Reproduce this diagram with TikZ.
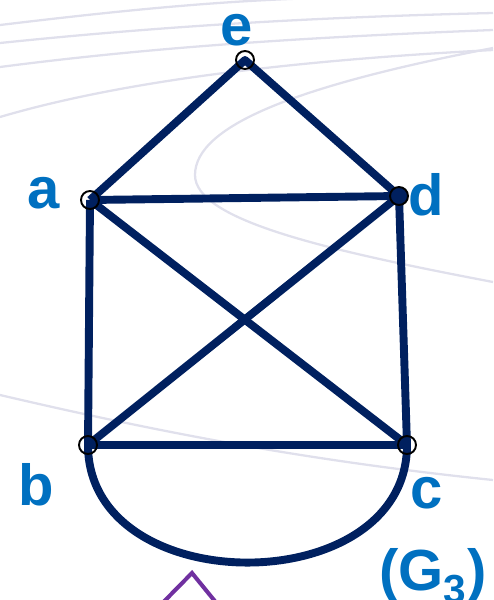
\documentclass[tikz,border=0pt]{standalone}
\usepackage{fontspec}
\setsansfont{Liberation Sans}
\usepackage{xcolor}
\usepackage{tikz}
\definecolor{EdgeInk}{HTML}{00205F}
\definecolor{LabelBlue}{HTML}{0070C0}
\definecolor{SwirlGray}{HTML}{E0E0EC}
\definecolor{MarkPurple}{HTML}{7030A0}
\tikzset{
  graphfig/.style={font=\sffamily\bfseries},
  edge/.style={draw=EdgeInk,line width=4.5pt,line join=round},
  ring/.style={draw=black,line width=1.1pt},
  vlabel/.style={text=LabelBlue,font=\sffamily\bfseries\fontsize{33}{36}\selectfont,
    inner sep=0pt,anchor=base},
  swirl/.style={draw=SwirlGray,line width=1.3pt},
}

\begin{document}
\begin{tikzpicture}[graphfig]
  \useasboundingbox (0,0) rectangle (9.86,-12);
  \clip (0,0) rectangle (9.86,-12);

  % faint slide background
  \draw[swirl] (0,-0.50) .. controls (2.5,-0.20) and (4.5,0) .. (6.7,0.05);
  \draw[swirl] (0,-0.86) .. controls (3,-0.55) and (6,-0.35) .. (9.86,-0.26);
  \draw[swirl] (0,-1.34) .. controls (3,-0.95) and (6,-0.75) .. (9.86,-0.60);
  \draw[swirl] (0,-2.34) .. controls (2.5,-1.6) and (6,-1.2) .. (9.86,-1.00);
  \draw[swirl] (9.86,-0.96) .. controls (6,-1.7) and (3.9,-2.5) .. (3.9,-3.5)
    .. controls (3.9,-4.4) and (6.5,-5.0) .. (9.86,-5.64);
  \draw[swirl] (0,-7.90) .. controls (3,-8.6) and (6,-9.2) .. (9.86,-9.60);

  % vertices
  \coordinate (e) at (4.90,-1.20);
  \coordinate (a) at (1.80,-4.00);
  \coordinate (d) at (7.98,-3.92);
  \coordinate (b) at (1.76,-8.90);
  \coordinate (c) at (8.14,-8.90);

  % edges
  \draw[edge] (a) -- (e) -- (d);
  \draw[edge] (a) -- (d);
  \draw[edge] (a) -- (b);
  \draw[edge] (d) -- (c);
  \draw[edge] (b) -- (c);
  \draw[edge] (a) -- (c);
  \draw[edge] (d) -- (b);
  \draw[edge] (b) to[out=-90,in=-90,looseness=1.26] (c);

  \foreach \v in {a,b,c,e}
    \draw[ring] (\v) circle[radius=0.18];
  \draw[ring,fill=EdgeInk] (d) circle[radius=0.18];

  % labels
  \node[vlabel] (le) at (4.74,-0.90) {e};
  \node[vlabel] (la) at (0.88,-4.16) {a};
  \node[vlabel] (ld) at (8.52,-4.30) {d};
  \node[vlabel] (lb) at (0.72,-10.10) {b};
  \node[vlabel] (lc) at (8.54,-10.16) {c};
  \node[vlabel] (lg) at (8.66,-11.80) {(G\textsubscript{3})};

  % cut-off mark at the bottom
  \coordinate (tip) at (3.84,-11.46);
  \draw[draw=MarkPurple,line width=2.3pt,line join=miter] (3.26,-12.05) -- (tip) -- (4.32,-12.05);
\end{tikzpicture}
\end{document}
